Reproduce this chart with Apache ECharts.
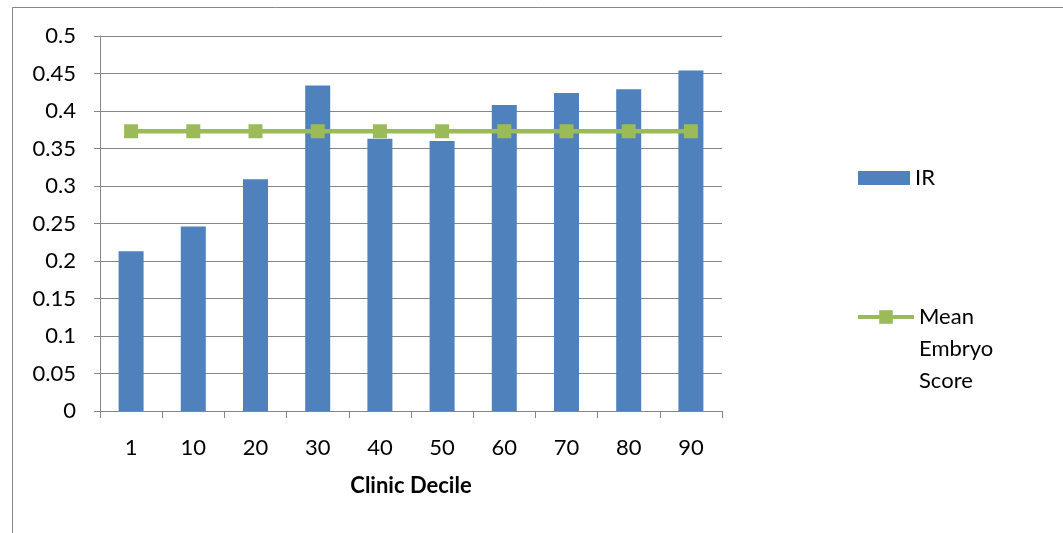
<!DOCTYPE html>
<html><head><meta charset="utf-8">
<script src="https://cdn.jsdelivr.net/npm/echarts@6/dist/echarts.min.js"></script>
<style>html,body{margin:0;padding:0;background:#fff}#c{width:1063px;height:533px}</style>
</head><body><div id="c"></div>
<script>
const categories = ['1','10','20','30','40','50','60','70','80','90'];
const irValues = [0.213, 0.246, 0.309, 0.434, 0.363, 0.360, 0.408, 0.424, 0.429, 0.454];
const meanEmbryoScore = [0.373, 0.373, 0.373, 0.373, 0.373, 0.373, 0.373, 0.373, 0.373, 0.373];
const yTicks = {min: 0, max: 0.5, interval: 0.05};

const font = 'Lato, "Open Sans", sans-serif';
const FS = 22;
const chart = echarts.init(document.getElementById('c'), null, {renderer: 'canvas'});
chart.setOption({
  animation: false,
  backgroundColor: '#fff',
  textStyle: {fontFamily: font},
  graphic: [{type: 'rect', shape: {x: 12.5, y: 7.5, width: 1060, height: 540}, style: {fill: 'none', stroke: '#878787', lineWidth: 1}}],
  grid: {left: 100, top: 36, width: 622, height: 375, containLabel: false},
  legend: [{
    orient: 'vertical', left: 858, top: 167, padding: 0, itemWidth: 52, itemHeight: 14,
    data: [{name: 'IR', icon: 'rect'}],
    textStyle: {fontSize: FS, color: '#000', fontFamily: font}, selectedMode: false
  }, {
    orient: 'vertical', left: 856, top: 237, padding: 0, itemWidth: 56, itemHeight: 17,
    data: ['Mean Embryo Score'],
    lineStyle: {width: 4},
    formatter: () => '{e| }\n{e| }\n{t|Mean}\n{t|Embryo}\n{t|Score}',
    textStyle: {fontSize: FS, color: '#000', fontFamily: font, lineHeight: 32,
      rich: {e: {fontSize: FS, lineHeight: 32}, t: {fontSize: FS, lineHeight: 32, color: '#000', fontFamily: font}}},
    selectedMode: false
  }],
  xAxis: {
    type: 'category', data: categories,
    axisLine: {lineStyle: {color: '#868686'}},
    axisTick: {show: true, length: 7, lineStyle: {color: '#868686'}},
    axisLabel: {color: '#000', fontSize: FS, margin: 26, fontFamily: font},
    name: 'Clinic Decile', nameLocation: 'middle', nameGap: 64,
    nameTextStyle: {fontWeight: 'bold', fontSize: FS, color: '#000', fontFamily: font}
  },
  yAxis: {
    type: 'value', min: yTicks.min, max: yTicks.max, interval: yTicks.interval,
    axisLine: {show: true, lineStyle: {color: '#868686'}},
    axisTick: {show: true, length: 6, lineStyle: {color: '#868686'}},
    splitLine: {lineStyle: {color: '#868686', width: 1}},
    axisLabel: {color: '#000', fontSize: FS, margin: 24, fontFamily: font,
      formatter: v => String(+v.toFixed(2))}
  },
  series: [{
    name: 'IR', type: 'bar', data: irValues, barWidth: 25,
    itemStyle: {color: '#4F81BD'}
  }, {
    name: 'Mean Embryo Score', type: 'line', data: meanEmbryoScore,
    symbol: 'rect', symbolSize: 14,
    lineStyle: {color: '#9BBB59', width: 4.5},
    itemStyle: {color: '#9BBB59'}
  }]
});
</script></body></html>
